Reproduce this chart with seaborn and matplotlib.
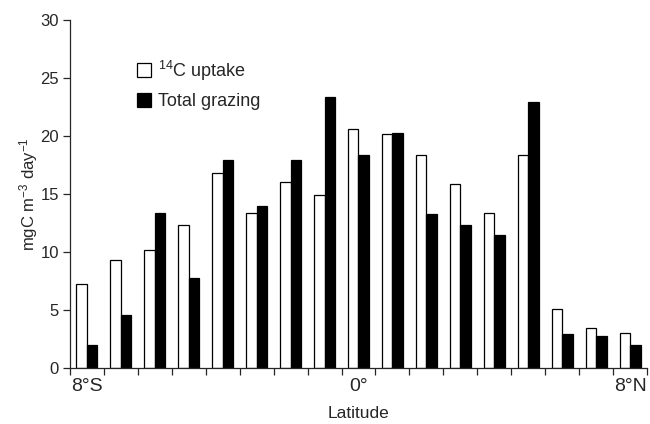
import matplotlib
matplotlib.use("Agg")
import matplotlib.pyplot as plt
from matplotlib.lines import Line2D
import seaborn as sns
import pandas as pd
import numpy as np

latitudes = ["8°S", "7°S", "6°S", "5°S", "4°S", "3°S", "2°S", "1°S", "0°",
             "1°N", "2°N", "3°N", "4°N", "5°N", "6°N", "7°N", "8°N"]
uptake = [7.2, 9.3, 10.2, 12.3, 16.8, 13.4, 16.0, 14.9, 20.6,
          20.2, 18.4, 15.9, 13.4, 18.4, 5.1, 3.45, 3.0]
grazing = [1.95, 4.6, 13.4, 7.75, 17.9, 14.0, 17.9, 23.4, 18.4,
           20.3, 13.3, 12.3, 11.5, 22.9, 2.9, 2.8, 1.95]
series_names = ["$^{14}$C uptake", "Total grazing"]
shown_labels = {"8°S": "8°S", "0°": "0°", "8°N": "8°N"}

sns.set_style("ticks")
plt.rcParams["font.family"] = ["Liberation Sans", "DejaVu Sans"]
plt.rcParams["mathtext.fontset"] = "custom"
plt.rcParams["mathtext.rm"] = "Liberation Sans"
plt.rcParams["mathtext.it"] = "Liberation Sans"

df = pd.DataFrame({
    "Latitude": latitudes * 2,
    "value": uptake + grazing,
    "series": [series_names[0]] * len(latitudes) + [series_names[1]] * len(latitudes),
})

fig = plt.figure(figsize=(6.5, 4.24), dpi=100)
ax = fig.add_axes([70 / 650, (424 - 368) / 424, (647 - 70) / 650, (368 - 20) / 424])

sns.barplot(data=df, x="Latitude", y="value", hue="series", order=latitudes,
            hue_order=series_names, palette=["white", "black"], width=0.62,
            edgecolor="black", linewidth=0.9, saturation=1, ax=ax, legend=False)

ax.set_xlim(-0.5, len(latitudes) - 0.5)
ax.set_ylim(0, 30)
ax.set_yticks(np.arange(0, 31, 5))
ax.tick_params(axis="y", labelsize=12, length=5, width=0.9, direction="out", pad=3)

pos = [i for i, l in enumerate(latitudes) if l in shown_labels]
ax.set_xticks(pos)
ax.set_xticklabels([shown_labels[latitudes[i]] for i in pos], fontsize=14)
ax.tick_params(axis="x", which="major", length=0, pad=7)
ax.set_xticks(np.arange(-0.5, len(latitudes), 1.0), minor=True)
ax.tick_params(axis="x", which="minor", length=5, width=0.9, direction="out")

for s in ["top", "right"]:
    ax.spines[s].set_visible(False)
for s in ["left", "bottom"]:
    ax.spines[s].set_linewidth(0.9)

ax.set_xlabel("Latitude", fontsize=12.5, labelpad=8)
ax.set_ylabel("mgC m$^{-3}$ day$^{-1}$", fontsize=12, labelpad=0)

handles = [Line2D([], [], marker="s", linestyle="none", markersize=10,
                  markerfacecolor=c, markeredgecolor="black", markeredgewidth=0.9)
           for c in ["white", "black"]]
ax.legend(handles, series_names, loc="upper left", bbox_to_anchor=(0.1, 0.91),
          frameon=False, fontsize=13, handletextpad=0.3, labelspacing=0.6,
          handlelength=1.0, borderaxespad=0)

fig.savefig("out.png", dpi=100)
